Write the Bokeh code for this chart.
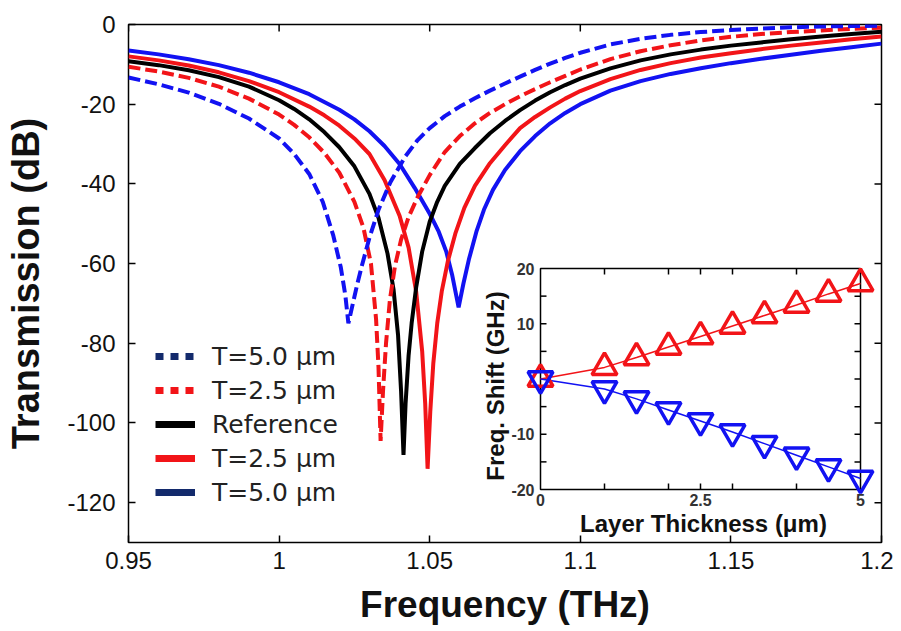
import math
from bokeh.plotting import figure
from bokeh.models import Range1d, FixedTicker, Legend, LegendItem
from bokeh.core.properties import value
from bokeh.embed import file_html
from bokeh.resources import INLINE

# ---------------- main plot data ----------------
x_ticks = [0.95, 1.0, 1.05, 1.1, 1.15, 1.2]
x_tick_labels = ["0.95", "1", "1.05", "1.1", "1.15", "1.2"]
y_ticks = [0, -20, -40, -60, -80, -100, -120]
y_tick_labels = ["0", "-20", "-40", "-60", "-80", "-100", "-120"]
x_lim = [0.95, 1.2]
y_lim = [-130, 0]

# T=5.0 um (dashed blue)
f_bd = [0.95, 0.96, 0.97, 0.98, 0.99, 1.00, 1.005, 1.01, 1.0145, 1.018, 1.0205, 1.022, 1.023,
        1.0245, 1.026, 1.0275, 1.03, 1.033, 1.037, 1.042, 1.046, 1.05, 1.055, 1.06, 1.065,
        1.07, 1.075, 1.08, 1.085, 1.09, 1.095, 1.10, 1.11, 1.12, 1.13, 1.14, 1.15, 1.16,
        1.17, 1.18, 1.19, 1.20]
t_bd = [-13.3, -15.0, -17.1, -19.9, -23.6, -28.6, -32.5, -37.5, -44.5, -53.0, -61.0, -68.0, -75.0,
        -70.0, -65.0, -60.5, -53.5, -46.5, -39.5, -33.0, -29.0, -26.0, -23.0, -20.6, -18.5,
        -16.6, -14.8, -13.1, -11.4, -9.8, -8.4, -7.1, -5.0, -3.6, -2.6, -1.9, -1.4, -1.0,
        -0.7, -0.5, -0.4, -0.3]

# T=2.5 um (dashed red)
f_rd = [0.95, 0.96, 0.97, 0.98, 0.99, 1.00, 1.005, 1.01, 1.015, 1.02, 1.025, 1.028, 1.0305,
        1.0322, 1.033, 1.0337, 1.0345, 1.0355, 1.0368, 1.0385, 1.0405, 1.043, 1.046, 1.05,
        1.055, 1.06, 1.065, 1.07, 1.075, 1.08, 1.085, 1.09, 1.095, 1.10, 1.11, 1.12, 1.13,
        1.14, 1.15, 1.16, 1.17, 1.18, 1.19, 1.20]
t_rd = [-10.6, -11.8, -13.4, -15.6, -18.6, -22.6, -25.2, -28.3, -32.2, -37.2, -44.5, -51.0, -60.0,
        -74.0, -86.0, -104.5, -92.0, -80.0, -69.0, -60.5, -54.0, -48.3, -43.3, -37.8,
        -32.0, -28.0, -24.8, -22.2, -20.0, -18.0, -16.2, -14.5, -12.9, -11.3, -8.7, -6.7, -5.2,
        -4.0, -3.1, -2.4, -1.9, -1.5, -1.1, -0.8]

# Reference (black)
f_bk = [0.95, 0.96, 0.97, 0.98, 0.99, 1.00, 1.005, 1.01, 1.015, 1.02, 1.025, 1.03, 1.033,
        1.036, 1.038, 1.0395, 1.0405, 1.0413, 1.042, 1.043, 1.044, 1.0455, 1.0475, 1.05,
        1.0525, 1.055, 1.06, 1.065, 1.07, 1.075, 1.08, 1.085, 1.09, 1.095, 1.10, 1.11, 1.12,
        1.13, 1.14, 1.15, 1.16, 1.17, 1.18, 1.19, 1.20]
t_bk = [-9.2, -10.2, -11.5, -13.2, -15.6, -19.0, -21.2, -23.8, -27.0, -30.8, -35.6, -42.5, -48.5,
        -57.5, -66.5, -78.0, -92.0, -108.0, -95.0, -83.0, -75.0, -66.0, -57.0, -49.5,
        -44.5, -40.5, -35.0, -31.0, -27.3, -24.2, -21.5, -19.1, -17.0, -15.2, -13.6, -11.0, -9.0,
        -7.5, -6.3, -5.3, -4.5, -3.7, -3.0, -2.4, -1.8]

# T=2.5 um (solid red)
f_rs = [0.95, 0.96, 0.97, 0.98, 0.99, 1.00, 1.01, 1.015, 1.02, 1.025, 1.03, 1.035, 1.04, 1.043,
        1.0455, 1.0475, 1.0485, 1.0493, 1.0502, 1.0512, 1.0525, 1.054, 1.056, 1.0585, 1.0615,
        1.065, 1.07, 1.075, 1.08, 1.085, 1.09, 1.095, 1.10, 1.11, 1.12, 1.13, 1.14, 1.15,
        1.16, 1.17, 1.18, 1.19, 1.20]
t_rs = [-8.0, -9.0, -10.3, -12.0, -14.2, -17.0, -20.6, -22.8, -25.4, -28.6, -32.5, -39.0, -48.0, -56.0,
        -67.0, -82.0, -95.0, -111.5, -97.0, -85.0, -75.0, -67.0, -59.5, -52.5, -46.0,
        -40.5, -34.8, -30.3, -26.0, -23.2, -20.8, -18.6, -16.7, -13.7, -11.4, -9.7, -8.3, -7.2,
        -6.2, -5.3, -4.5, -3.7, -3.0]

# T=5.0 um (solid blue)
f_bs = [0.95, 0.96, 0.97, 0.98, 0.99, 1.00, 1.01, 1.02, 1.025, 1.03, 1.035, 1.04, 1.045, 1.05,
        1.053, 1.0555, 1.0575, 1.0596, 1.0612, 1.063, 1.0655, 1.068, 1.071, 1.075, 1.08,
        1.085, 1.09, 1.095, 1.10, 1.11, 1.12, 1.13, 1.14, 1.15, 1.16, 1.17, 1.18, 1.19, 1.20]
t_bs = [-6.5, -7.5, -8.7, -10.2, -12.1, -14.5, -17.5, -21.4, -23.8, -26.8, -30.5, -35.0, -41.0, -47.5,
        -52.0, -57.0, -63.0, -71.0, -65.0, -59.0, -52.0, -46.5, -41.5, -36.5, -31.8,
        -28.0, -24.8, -22.2, -20.0, -16.6, -14.2, -12.4, -11.0, -9.7, -8.6, -7.6, -6.6, -5.7, -4.8]

legend_labels = ["T=5.0 \u03bcm", "T=2.5 \u03bcm", "Reference", "T=2.5 \u03bcm", "T=5.0 \u03bcm"]

# ---------------- inset data ----------------
thickness = [0, 1, 1.5, 2, 2.5, 3, 3.5, 4, 4.5, 5]
shift_up = [0, 2.1, 3.9, 5.8, 7.7, 9.6, 11.5, 13.4, 15.4, 17.3]
shift_down = [0, -1.8, -3.6, -5.6, -7.6, -9.6, -11.7, -13.8, -15.9, -18.0]
ins_xlim = [0, 5]
ins_ylim = [-20, 20]
ins_x_ticks = [1, 2, 2.5, 3, 4]
ins_x_labels_pos = [0, 2.5, 5]
ins_x_labels = ["0", "2.5", "5"]
ins_y_ticks = [-15, -10, -5, 0, 5, 10, 15]
ins_y_labels_pos = [20, 10, -10, -20]
ins_y_labels = ["20", "10", "-10", "-20"]

BLUE = "#1212f2"
RED = "#f21418"
NAVY = "#132a6c"
NAN = float("nan")

# ---------------- layout (pixels in figure) ----------------
W, H = 893, 631
FL, FR, FT, FB = 128, 881, 24, 542          # frame edges
IL, IR, IT, IB = 540, 860, 268, 489          # inset box edges

p = figure(width=W, height=H, output_backend="svg", toolbar_location=None,
           x_range=Range1d(*x_lim), y_range=Range1d(*y_lim),
           min_border_left=FL, min_border_right=W - FR,
           min_border_top=FT, min_border_bottom=H - FB)
p.background_fill_color = "white"
p.border_fill_color = "white"
p.outline_line_color = "black"
p.outline_line_width = 1.5
p.xgrid.grid_line_color = None
p.ygrid.grid_line_color = None

xb = p.below[0]
yl = p.left[0]
xb.ticker = FixedTicker(ticks=x_ticks)
xb.major_label_overrides = {t: l for t, l in zip(x_ticks, x_tick_labels)}
yl.ticker = FixedTicker(ticks=y_ticks)
yl.major_label_overrides = {t: l for t, l in zip(y_ticks, y_tick_labels)}

for ax in [xb, yl]:
    ax.axis_line_color = None
    ax.major_tick_in = 7
    ax.major_tick_out = 0
    ax.minor_tick_in = 0
    ax.minor_tick_out = 0
    ax.major_tick_line_color = "black"
    ax.major_tick_line_width = 1.5
    ax.major_label_text_font = "Liberation Sans"
    ax.major_label_text_font_size = "24px"
    ax.major_label_text_color = "#111111"
    ax.axis_label_text_font = "Liberation Sans"
    ax.axis_label_text_font_style = "bold"
    ax.axis_label_text_color = "#111111"

xb.major_label_standoff = 9
yl.major_label_standoff = 13
xb.axis_label = "Frequency (THz)"
yl.axis_label = "Transmission (dB)"
xb.axis_label_text_font_size = "37px"
xb.axis_label_standoff = 12
yl.axis_label_text_font_size = "38px"
yl.axis_label_standoff = 17

# mirrored ticks on the top and right frame edges
mt = dict(length=7, length_units="screen", line_color="black", line_width=1.5)
p.ray(x=x_ticks, y=[y_lim[1]] * len(x_ticks), angle=-math.pi / 2, **mt)
p.ray(x=[x_lim[1]] * len(y_ticks), y=y_ticks, angle=math.pi, **mt)

# ---------------- main curves ----------------
p.line(f_bs, t_bs, line_color=BLUE, line_width=4)
p.line(f_rs, t_rs, line_color=RED, line_width=4)
p.line(f_bk, t_bk, line_color="black", line_width=4)
p.line(f_rd, t_rd, line_color=RED, line_width=4, line_dash="12 5")
p.line(f_bd, t_bd, line_color=BLUE, line_width=4, line_dash="12 5")

# legend-only renderers (the legend uses navy for the blue entries)
lg = [
    p.line([NAN], [NAN], line_color=NAVY, line_width=7, line_dash="8 7"),
    p.line([NAN], [NAN], line_color=RED, line_width=7, line_dash="8 7"),
    p.line([NAN], [NAN], line_color="black", line_width=7),
    p.line([NAN], [NAN], line_color=RED, line_width=7),
    p.line([NAN], [NAN], line_color=NAVY, line_width=7),
]
legend = Legend(items=[LegendItem(label=l, renderers=[r]) for l, r in zip(legend_labels, lg)],
                location=(27, 35), margin=0, padding=0, spacing=4,
                glyph_width=40, glyph_height=30, label_height=30, label_standoff=17,
                label_text_font="DejaVu Sans", label_text_font_size="25px",
                label_text_color="#222222",
                border_line_color=None, background_fill_alpha=0)
p.add_layout(legend)

# ---------------- inset (own ranges mapped onto the inset box) ----------------
sx = (ins_xlim[1] - ins_xlim[0]) / (IR - IL)
sy = (ins_ylim[1] - ins_ylim[0]) / (IB - IT)
p.extra_x_ranges = {"ix": Range1d(ins_xlim[0] - (IL - FL) * sx, ins_xlim[1] + (FR - IR) * sx)}
p.extra_y_ranges = {"iy": Range1d(ins_ylim[0] - (FB - IB) * sy, ins_ylim[1] + (IT - FT) * sy)}
kw = dict(x_range_name="ix", y_range_name="iy")

p.quad(left=[ins_xlim[0]], right=[ins_xlim[1]], bottom=[ins_ylim[0]], top=[ins_ylim[1]],
       fill_color="white", line_color="black", line_width=1.5, **kw)

n = len(ins_y_ticks)
m = len(ins_x_ticks)
tick_kw = dict(length=6, length_units="screen", line_color="black", line_width=1.5, **kw)
p.ray(x=[ins_xlim[0]] * n, y=ins_y_ticks, angle=0, **tick_kw)
p.ray(x=[ins_xlim[1]] * n, y=ins_y_ticks, angle=math.pi, **tick_kw)
p.ray(x=ins_x_ticks, y=[ins_ylim[0]] * m, angle=math.pi / 2, **tick_kw)
p.ray(x=ins_x_ticks, y=[ins_ylim[1]] * m, angle=-math.pi / 2, **tick_kw)

p.text(x=[ins_xlim[0]] * len(ins_y_labels), y=ins_y_labels_pos, text=ins_y_labels,
       text_font=value("Liberation Sans"), text_font_size="16px", text_font_style="bold",
       text_color="#333333", text_align="right", text_baseline="middle", x_offset=-6, **kw)
p.text(x=ins_x_labels_pos, y=[ins_ylim[0]] * len(ins_x_labels), text=ins_x_labels,
       text_font=value("Liberation Sans"), text_font_size="16px", text_font_style="bold",
       text_color="#333333", text_align="center", text_baseline="top", y_offset=4, **kw)
p.text(x=[ins_xlim[0]], y=[0], text=["Freq. Shift (GHz)"], angle=math.pi / 2,
       text_font=value("Liberation Sans"), text_font_size="24px", text_font_style="bold",
       text_color="#111111", text_align="center", text_baseline="middle",
       x_offset=-45, y_offset=7, **kw)
p.text(x=[sum(ins_xlim) / 2], y=[ins_ylim[0]], text=["Layer Thickness (\u03bcm)"],
       text_font=value("Liberation Sans"), text_font_size="24px", text_font_style="bold",
       text_color="#111111", text_align="center", text_baseline="middle",
       x_offset=3, y_offset=34, **kw)

p.line(thickness, shift_up, line_color=RED, line_width=1.5, **kw)
p.line(thickness, shift_down, line_color=BLUE, line_width=1.5, **kw)
p.scatter(thickness, shift_up, marker="triangle", size=25, line_color=RED, line_width=3.5,
          fill_alpha=0, **kw)
p.scatter(thickness, shift_down, marker="inverted_triangle", size=25, line_color=BLUE,
          line_width=3.5, fill_alpha=0, **kw)

open("out.html", "w").write(file_html(p, INLINE))
